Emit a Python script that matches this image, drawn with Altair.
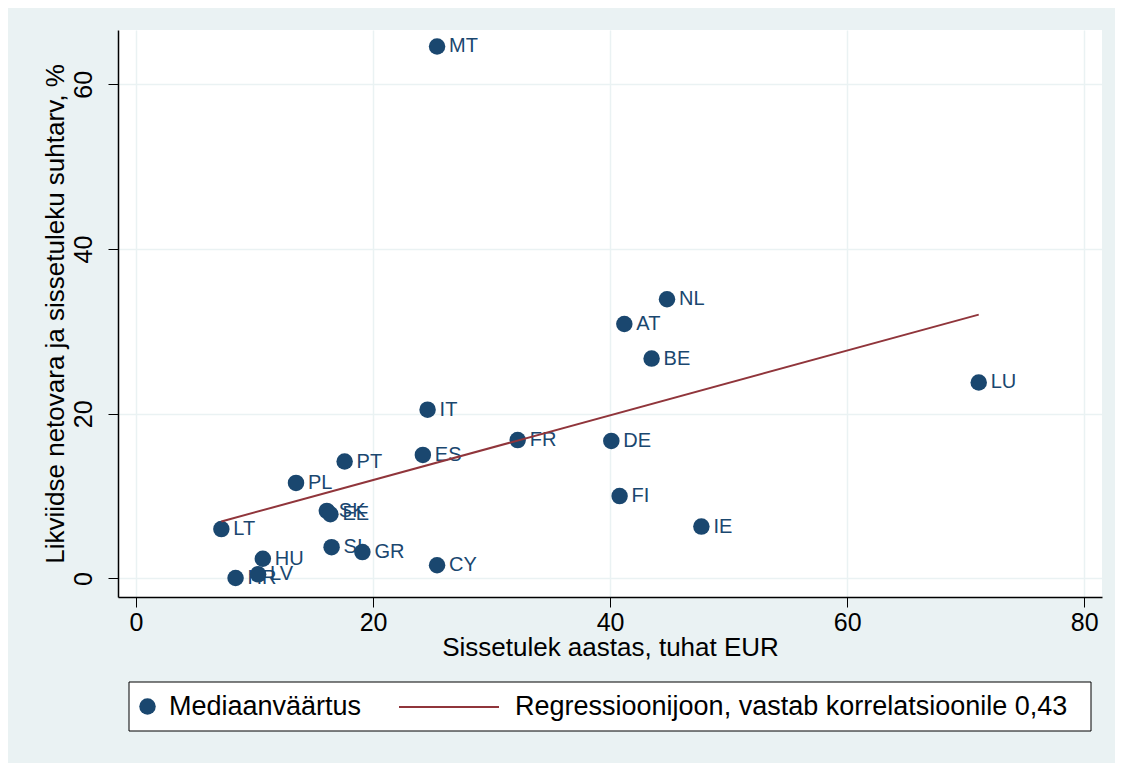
import altair as alt
import pandas as pd

# ---- data ----
countries = ["MT", "NL", "AT", "BE", "LU", "IT", "FR", "DE", "ES", "PT", "PL",
             "FI", "SK", "EE", "LT", "IE", "SI", "GR", "HU", "CY", "LV", "HR"]
income = [25.4, 44.8, 41.2, 43.5, 71.1, 24.6, 32.2, 40.1, 24.2, 17.6, 13.5,
          40.8, 16.1, 16.4, 7.2, 47.7, 16.5, 19.1, 10.7, 25.4, 10.3, 8.4]
ratio = [64.6, 33.9, 30.9, 26.7, 23.8, 20.5, 16.8, 16.7, 15.0, 14.2, 11.6,
         10.0, 8.2, 7.8, 6.0, 6.3, 3.8, 3.2, 2.4, 1.6, 0.5, 0.06]
x_ticks = [0, 20, 40, 60, 80]
y_ticks = [0, 20, 40, 60]
point_series = "Mediaanväärtus"
line_series = "Regressioonijoon, vastab korrelatsioonile 0,43"
x_title = "Sissetulek aastas, tuhat EUR"
y_title = "Likviidse netovara ja sissetuleku suhtarv, %"

df = pd.DataFrame({"country": countries, "income": income, "ratio": ratio,
                   "series": point_series})

FONT = "Liberation Sans"
NAVY = "#1a476f"
MAROON = "#90353b"
BG = "#eaf2f3"

x_enc = alt.X("income:Q",
              scale=alt.Scale(domain=[-1.52, 81.5], nice=False, zero=False),
              axis=alt.Axis(values=x_ticks, title=x_title, labelPadding=3,
                            titlePadding=-1))
y_enc = alt.Y("ratio:Q",
              scale=alt.Scale(domain=[-2.25, 66.6], nice=False, zero=False),
              axis=alt.Axis(values=y_ticks, title=y_title, labelAngle=270,
                            labelPadding=12, titlePadding=3))

base = alt.Chart(df)

frame = alt.Chart(pd.DataFrame({"k": [0]})).mark_rect(
    fill="white", stroke="black", strokeWidth=1
).encode(x=alt.value(11), x2=alt.value(973), y=alt.value(652), y2=alt.value(701))

points = base.mark_circle(size=272, opacity=1).encode(
    x=x_enc, y=y_enc,
    color=alt.Color("series:N", scale=alt.Scale(range=[NAVY]),
                    legend=alt.Legend(orient="none", legendX=16, legendY=663,
                                      title=None, symbolType="circle",
                                      symbolSize=272, labelOffset=8,
                                      labelFontSize=27, labelFont=FONT,
                                      labelColor="black", labelLimit=1000,
                                      padding=0, symbolOffset=0))
)

labels = base.mark_text(align="left", baseline="middle", dx=12, fontSize=20,
                        font=FONT, color=NAVY).encode(
    x="income:Q", y="ratio:Q", text="country:N")

fit = base.transform_regression("income", "ratio").transform_calculate(
    line="'" + line_series + "'"
).mark_line(strokeWidth=2).encode(
    x="income:Q", y="ratio:Q",
    stroke=alt.Stroke("line:N", scale=alt.Scale(range=[MAROON]),
                      legend=alt.Legend(orient="none", legendX=280, legendY=626,
                                        title=None, symbolType="stroke",
                                        symbolSize=10000, symbolStrokeWidth=2,
                                        labelOffset=15, labelFontSize=27,
                                        labelFont=FONT, labelColor="black",
                                        labelLimit=1000, padding=0,
                                        symbolOffset=0))
)

chart = alt.layer(frame, points, labels, fit).properties(
    width=984, height=567,
    background=BG,
    autosize=alt.AutoSizeParams(type="none"),
    padding={"left": 110, "top": 22, "right": 13, "bottom": 166},
).configure_view(
    fill="white", strokeWidth=0
).configure_axis(
    domainColor="#000000", domainWidth=1.5,
    tickColor="#000000", tickWidth=1, tickSize=10,
    labelFont=FONT, labelFontSize=25, labelColor="#000000",
    titleFont=FONT, titleFontSize=26, titleFontWeight="normal",
    titleColor="#000000",
    gridColor=BG, gridWidth=1.5,
)

chart.save("out.html", embed_options={"renderer": "svg", "actions": False})
